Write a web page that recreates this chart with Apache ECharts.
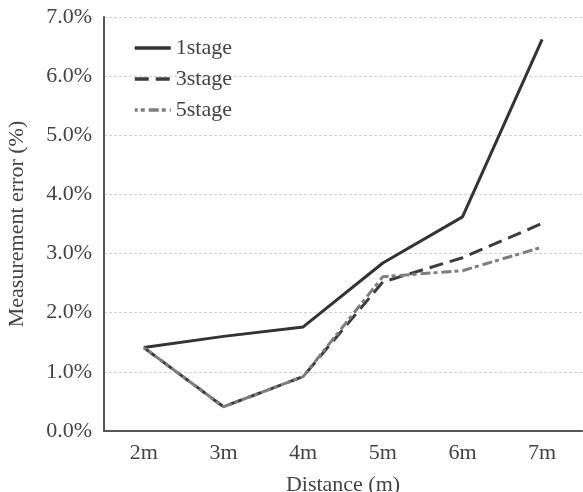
<!DOCTYPE html>
<html>
<head>
<meta charset="utf-8">
<script src="https://cdn.jsdelivr.net/npm/echarts@6/dist/echarts.min.js"></script>
<style>
  html, body { margin: 0; padding: 0; background: #fff; }
  #main { width: 583px; height: 492px; }
</style>
</head>
<body>
<div id="main"></div>
<script>
// distances on the x axis
const distances = ['2m', '3m', '4m', '5m', '6m', '7m']
const stage1 = [1.41, 1.60, 1.76, 2.84, 3.62, 6.62]
const stage3 = [1.41, 0.41, 0.92, 2.52, 2.93, 3.51]
const stage5 = [1.41, 0.41, 0.92, 2.61, 2.71, 3.11]

const serif = 'Liberation Serif'
const chart = echarts.init(document.getElementById('main'))

const option = {
  animation: false,
  grid: { left: 104, right: 1, top: 17, bottom: 61, outerBoundsMode: 'none' },
  legend: {
    left: 128,
    top: 32,
    orient: 'vertical',
    itemGap: 9,
    itemWidth: 36,
    itemHeight: 21,
    itemStyle: { opacity: 0 },
    lineStyle: { width: 3.5 },
    textStyle: { fontFamily: serif, fontSize: 22, color: '#444' },
    data: ['1stage', '3stage', '5stage']
  },
  xAxis: {
    type: 'category',
    data: distances,
    name: 'Distance (m)',
    nameLocation: 'middle',
    nameGap: 43,
    nameTextStyle: { fontFamily: serif, fontSize: 22, color: '#444' },
    axisLine: { lineStyle: { color: '#555', width: 2 } },
    axisTick: { show: false },
    axisLabel: { fontFamily: serif, fontSize: 22, color: '#444', margin: 11 }
  },
  yAxis: {
    type: 'value',
    min: 0,
    max: 7,
    interval: 1,
    name: 'Measurement error (%)',
    nameLocation: 'middle',
    nameGap: 76,
    nameTextStyle: { fontFamily: serif, fontSize: 22, color: '#444' },
    axisLine: { show: true, lineStyle: { color: '#555', width: 2 } },
    axisTick: { show: false },
    axisLabel: {
      fontFamily: serif, fontSize: 22, color: '#444', margin: 12,
      formatter: v => v.toFixed(1) + '%'
    },
    splitLine: { lineStyle: { color: '#d4d4d4', type: [3, 2], width: 1 } }
  },
  series: [
    {
      name: '1stage',
      type: 'line',
      data: stage1,
      symbol: 'none',
      color: '#333',
      lineStyle: { width: 3, color: '#333' }
    },
    {
      name: '3stage',
      type: 'line',
      data: stage3,
      symbol: 'none',
      color: '#3c3c3c',
      lineStyle: { width: 3, color: '#3c3c3c', type: [14, 7] }
    },
    {
      name: '5stage',
      type: 'line',
      data: stage5,
      symbol: 'none',
      color: '#7e7e7e',
      lineStyle: { width: 3, color: '#7e7e7e', type: [10, 3, 4, 4], dashOffset: 7 }
    }
  ]
}

chart.setOption(option)
</script>
</body>
</html>
